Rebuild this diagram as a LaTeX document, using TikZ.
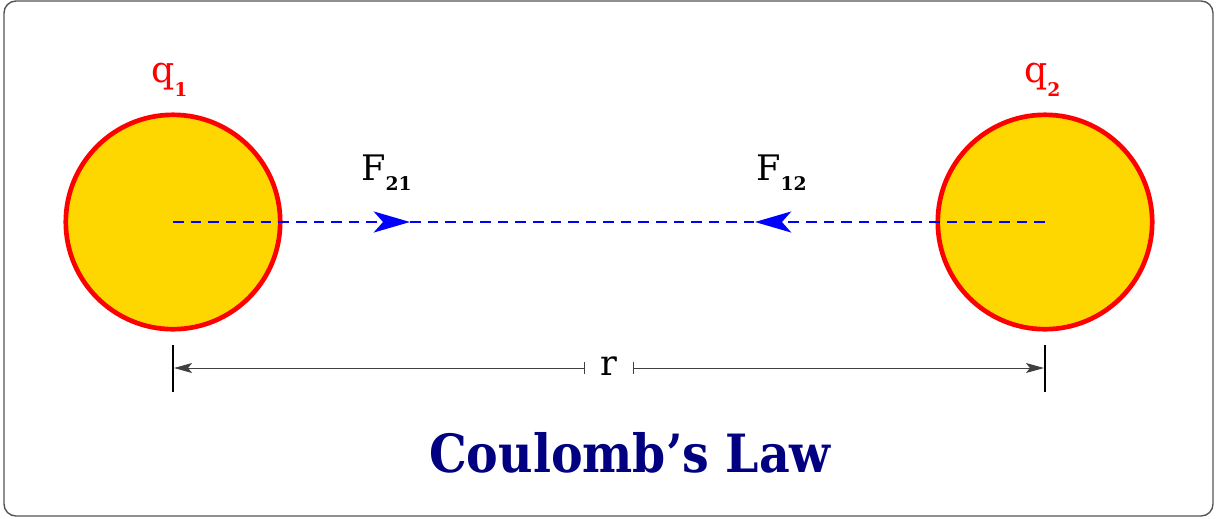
\documentclass[tikz,border=0pt]{standalone}
\usepackage{fontspec}
\setmainfont{DejaVu Serif}
\newfontfamily\titlefont{DejaVu Serif Condensed}
\usetikzlibrary{arrows.meta}
\definecolor{gold}{HTML}{FFD700}
\definecolor{chargered}{HTML}{FF0000}
\definecolor{forceblue}{HTML}{0000FF}
\definecolor{titlenavy}{HTML}{000080}
\definecolor{framegray}{HTML}{555555}
\newcommand{\subq}[1]{\raisebox{-12pt}{\fontsize{16}{16}\selectfont\bfseries #1}}
\newcommand{\subf}[1]{\raisebox{-9pt}{\fontsize{16}{16}\selectfont\bfseries #1}}
\tikzset{
  charge/.style={circle, draw=chargered, fill=gold, line width=4pt, minimum size=183pt, inner sep=0pt},
  chargelabel/.style={text=chargered, font=\fontsize{31}{31}\selectfont, inner sep=0pt},
  forcelabel/.style={text=black, font=\fontsize{30}{30}\selectfont, inner sep=0pt},
  forceline/.style={draw=forceblue, line width=1.71pt, dash pattern=on 9pt off 6pt},
  forcearrow/.style={forceline, -{Stealth[length=31pt, width=18pt, inset=8pt]}},
  dimtick/.style={draw=black, line width=1.37pt},
  dimline/.style={draw=black!75, line width=0.85pt},
}
\begin{document}
\begin{tikzpicture}[x=0.03cm, y=-0.03cm]
\useasboundingbox (0,0) rectangle (1225,518);
\draw[framegray, line width=1.2pt, rounded corners=10.2pt] (4,1) rectangle (1213,516);

\node[charge] (q1) at (173,222) {};
\node[charge] (q2) at (1045,222) {};
\node[chargelabel, anchor=base west] (q1lab) at (151,82) {q\subq{1}};
\node[chargelabel, anchor=base west] (q2lab) at (1024,82) {q\subq{2}};

\coordinate (t21) at (410,222);
\coordinate (t12) at (755,222);
\draw[forceline] (t21) -- (t12);
\draw[forcearrow] (q1.center) -- (t21);
\draw[forcearrow] (q2.center) -- (t12);
\node[forcelabel, anchor=base west] (f21) at (361,180) {F\subf{21}};
\node[forcelabel, anchor=base west] (f12) at (756,180) {F\subf{12}};

\coordinate (d1top) at (173,345);
\coordinate (d1bot) at (173,392);
\coordinate (d2top) at (1045,345);
\coordinate (d2bot) at (1045,392);
\draw[dimtick] (d1top) -- (d1bot);
\draw[dimtick] (d2top) -- (d2bot);
\node[forcelabel, anchor=base] (r) at (609,375) {r};
\coordinate (d1) at (174,368);
\coordinate (d2) at (1044,368);
\coordinate (m1) at (585,368);
\coordinate (m2) at (633,368);
\draw[dimline, {Stealth[length=15.4pt, width=8.5pt, inset=3.4pt]}-{Bar[width=10.2pt]}] (d1) -- (m1);
\draw[dimline, {Bar[width=10.2pt]}-{Stealth[length=15.4pt, width=8.5pt, inset=3.4pt]}] (m2) -- (d2);

\node[text=titlenavy, font=\titlefont\bfseries\fontsize{45}{45}\selectfont, anchor=base, inner sep=0pt] (title) at (630,472) {Coulomb’s Law};
\end{tikzpicture}
\end{document}
